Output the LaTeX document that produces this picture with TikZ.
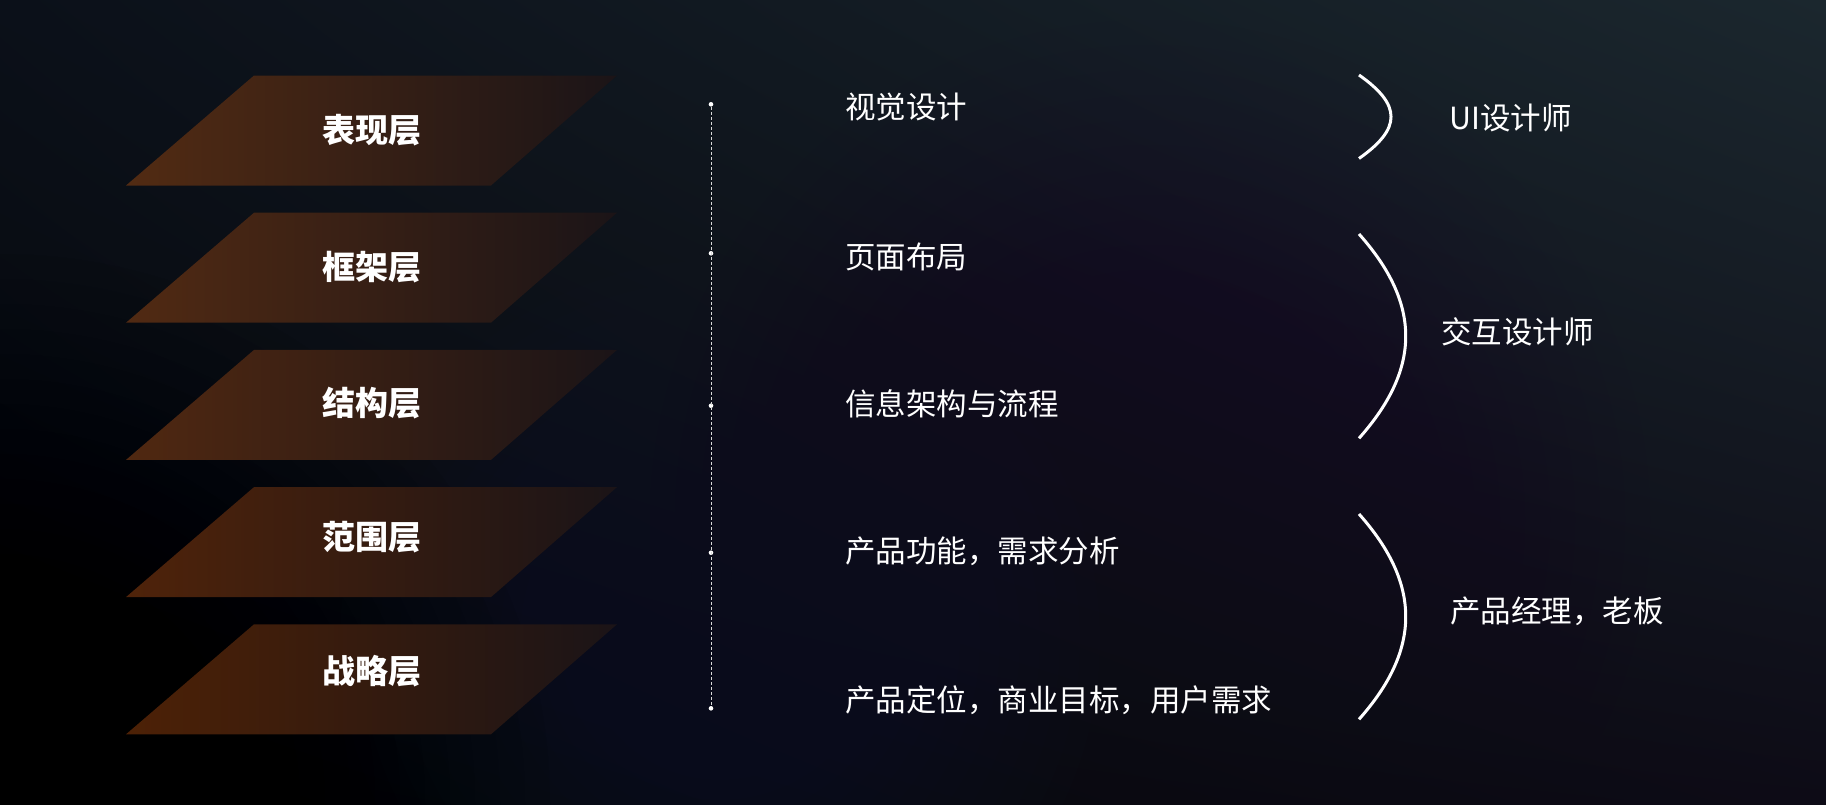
\documentclass[tikz,border=0pt]{standalone}
\usepackage{fontspec}
\setmainfont{Noto Sans CJK SC}
\usetikzlibrary{shadings}
\definecolor{bgUL}{HTML}{0B1019}
\definecolor{bgUR}{HTML}{1B272E}
\definecolor{bgLL}{HTML}{040508}
\definecolor{bgLR}{HTML}{0D0B16}
\definecolor{glowBlue}{HTML}{1A2232}
\definecolor{glowPurple}{HTML}{160C26}
\definecolor{layR}{HTML}{1B1417}
\definecolor{layA}{HTML}{522B13}
\definecolor{layB}{HTML}{512A13}
\definecolor{layC}{HTML}{502811}
\definecolor{layD}{HTML}{4F230A}
\definecolor{layE}{HTML}{4D2106}
\tikzset{
  lbl/.style={text=white, font=\bfseries\fontsize{33}{38}\selectfont, inner sep=0pt},
  item/.style={text=white, font=\fontsize{30.5}{36}\selectfont, anchor=west, inner sep=0pt},
  role/.style={text=white, font=\fontsize{30.5}{36}\selectfont, anchor=west, inner sep=0pt},
  gdot/.style={circle, fill=white, draw=none, inner sep=0pt, minimum size=4.6pt},
  brace/.style={white, line width=3pt},
  guide/.style={white!85!black, line width=1pt, dash pattern=on 3pt off 2pt},
}
\begin{document}
\begin{tikzpicture}[x=1pt,y=-1pt]
\useasboundingbox (0,0) rectangle (1826,804);
% background
\shade[upper left=bgUL, upper right=bgUR, lower left=bgLL, lower right=bgLR] (0,0) rectangle (1826,804);
\begin{scope}
  \clip (0,0) rectangle (1826,804);
  \foreach \r in {20,40,...,380}{\fill[glowBlue, opacity=0.045] (720,640) circle (\r);}
  \foreach \r in {25,50,...,500}{\fill[glowPurple, opacity=0.04] (1150,520) circle (\r);}
  \foreach \r in {25,50,...,550}{\fill[black, opacity=0.05] (0,804) circle (\r);}
\end{scope}
% layers
\foreach \t/\ly/\nm/\txt/\cl in {75.5/130.5/L1/表现层/layA, 212.7/267.5/L2/框架层/layB, 349.9/403/L3/结构层/layC, 487.1/537/L4/范围层/layD, 624.3/671/L5/战略层/layE}{
  \shade[left color=\cl, right color=layR] (254,\t) -- (617,\t) -- (491,\t+110) -- (126,\t+110) -- cycle;
  \node[lbl] (\nm) at (372,\ly) {\txt};
}
% guide line with dots
\node[gdot] (d1) at (711,104.3) {};
\node[gdot] (d2) at (711,253.3) {};
\node[gdot] (d3) at (711,405.7) {};
\node[gdot] (d4) at (711,552.7) {};
\node[gdot] (d5) at (711,708.3) {};
\draw[guide] (d1) -- (d5);
% items
\node[item] (v1) at (845,106.5) {视觉设计};
\node[item] (v2) at (845,256.5) {页面布局};
\node[item] (v3) at (845,403.5) {信息架构与流程};
\node[item] (v4) at (845,551.5) {产品功能，需求分析};
\node[item] (v5) at (845,700) {产品定位，商业目标，用户需求};
% braces
\coordinate (b1t) at (1359,75);
\coordinate (b1b) at (1359,158.5);
\coordinate (b2t) at (1359,234);
\coordinate (b2b) at (1359,438.3);
\coordinate (b3t) at (1359,514);
\coordinate (b3b) at (1359,719.3);
\draw[brace] (b1t) .. controls +(42.7,30) and +(42.7,-30) .. (b1b);
\draw[brace] (b2t) .. controls +(62.3,70) and +(62.3,-70) .. (b2b);
\draw[brace] (b3t) .. controls +(62.3,70) and +(62.3,-70) .. (b3b);
% roles
\node[role] (r1) at (1449,118.3) {UI设计师};
\node[role] (r2) at (1441,331.7) {交互设计师};
\node[role] (r3) at (1450,611.7) {产品经理，老板};
\end{tikzpicture}
\end{document}
